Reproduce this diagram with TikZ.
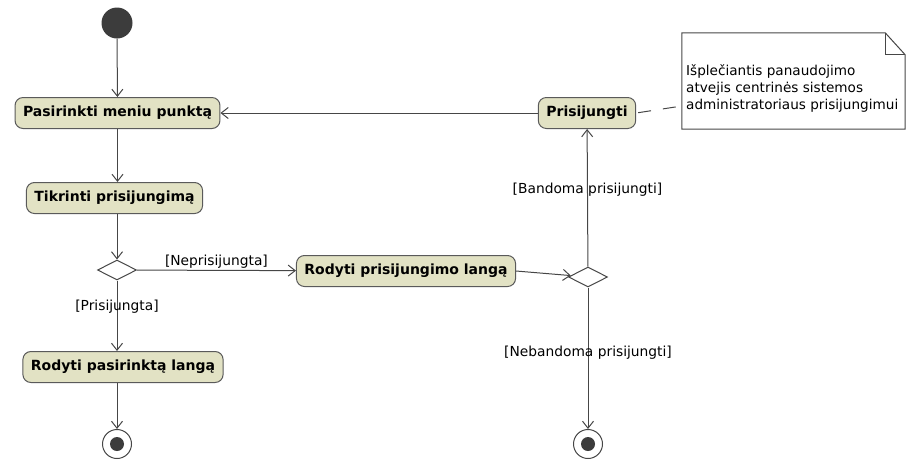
\documentclass[tikz,border=0pt]{standalone}
\usepackage{fontspec}
\setmainfont{DejaVu Sans}
\usetikzlibrary{shapes.geometric,arrows.meta}
\definecolor{actfill}{RGB}{226,226,196}
\definecolor{edgegray}{RGB}{70,70,70}
\definecolor{boxgray}{RGB}{90,90,90}
\definecolor{dotgray}{RGB}{60,60,60}

\begin{document}
\begin{tikzpicture}[x=1pt, y=-1pt,
    action/.style={draw=boxgray, line width=1pt, fill=actfill, rounded corners=8pt, minimum height=31pt, inner xsep=8pt, font=\fontsize{14}{16}\selectfont\bfseries},
    decision/.style={diamond, draw=edgegray, line width=1pt, fill=white, minimum width=39pt, minimum height=20pt, inner sep=0pt},
    initial/.style={circle, fill=dotgray, minimum size=31pt, inner sep=0pt},
    final/.style={circle, draw=edgegray, line width=1pt, fill=white, minimum size=29pt, inner sep=0pt,
        path picture={\fill[dotgray] (path picture bounding box.center) circle (7pt);}},
    guard/.style={font=\fontsize{13.8}{16}\selectfont, inner sep=1pt},
    flow/.style={draw=edgegray, line width=1pt, -{Straight Barb[length=7pt, width=11pt]}}
]
    \useasboundingbox (0,0) rectangle (909,461);

    \node[initial] (start) at (117,23) {};
    \node[action] (pasirinkti) at (117.5,113) {Pasirinkti meniu punktą};
    \node[action] (tikrinti) at (114.5,198) {Tikrinti prisijungimą};
    \node[decision] (dec1) at (117,270) {};
    \node[action] (rodytilanga) at (406,271) {Rodyti prisijungimo langą};
    \node[decision] (dec2) at (588,277) {};
    \node[action] (prisijungti) at (587,113) {Prisijungti};
    \node[action] (rodytipasirinkta) at (123,367) {Rodyti pasirinktą langą};
    \node[final] (end1) at (117,444) {};
    \node[final] (end2) at (588,444) {};

    \node[minimum width=223pt, minimum height=96pt, inner sep=0pt] (note) at (793.5,81) {};
    \draw[edgegray, line width=1pt] (note.north west) -- ([xshift=-20pt]note.north east)
        -- ([yshift=-22pt]note.north east) -- (note.south east) -- (note.south west) -- cycle;
    \draw[edgegray, line width=1pt] ([xshift=-20pt]note.north east) |- ([yshift=-22pt]note.north east);
    \node[anchor=north west, align=left, inner sep=0pt, font=\fontsize{13.6}{17}\selectfont] (notetext) at (686,64)
        {Išplečiantis panaudojimo\\atvejis centrinės sistemos\\administratoriaus prisijungimui};

    \draw[flow] (start) -- (pasirinkti);
    \draw[flow] (pasirinkti.south) -- (pasirinkti.south |- tikrinti.north);
    \draw[flow] (dec1.north |- tikrinti.south) -- (dec1);
    \draw[flow] (dec1) -- node[guard, above] {[Neprisijungta]} (rodytilanga);
    \draw[flow] (dec1) -- node[guard, pos=0.37] {[Prisijungta]} (dec1.south |- rodytipasirinkta.north);
    \draw[flow] (dec1.south |- rodytipasirinkta.south) -- (end1);
    \draw[flow] (rodytilanga.east) -- (dec2);
    \draw[flow] (dec2) -- node[guard, pos=0.56] {[Bandoma prisijungti]} (prisijungti);
    \draw[flow] (dec2) -- node[guard, pos=0.46] {[Nebandoma prisijungti]} (end2);
    \draw[flow] (prisijungti) -- (pasirinkti);
    \draw[edgegray, line width=1pt, dash pattern=on 13pt off 12pt, dash phase=-2pt]
        (prisijungti.east) -- ([yshift=-25pt]note.west);
\end{tikzpicture}
\end{document}
